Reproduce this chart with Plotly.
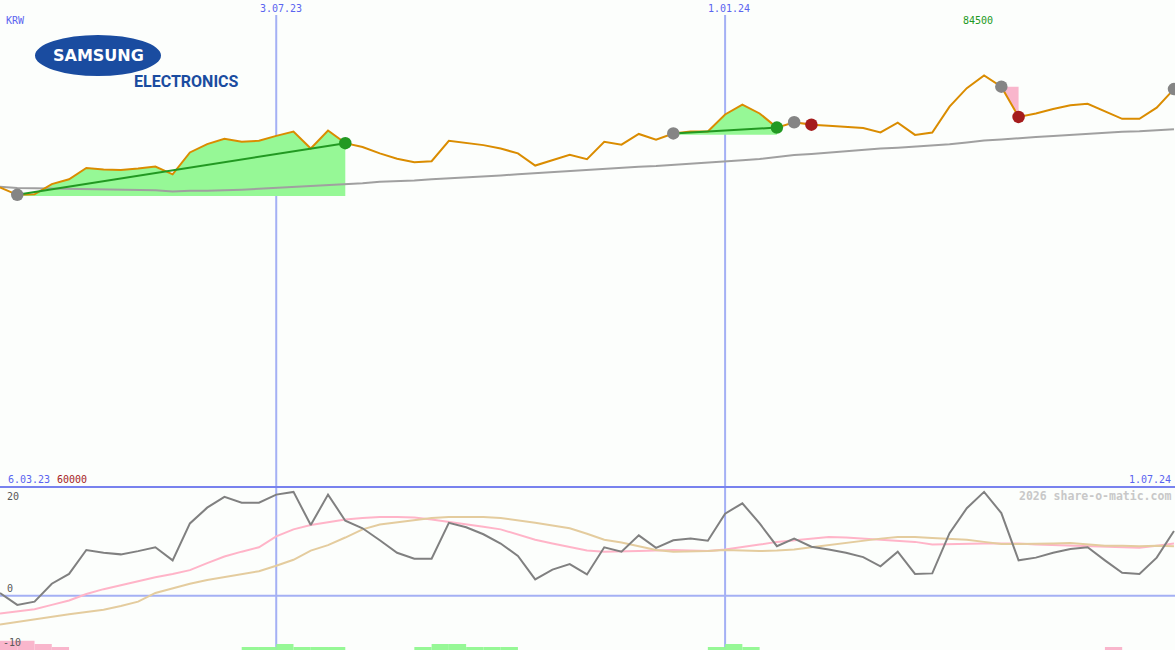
import plotly.graph_objects as go
import pandas as pd

W, H = 1175, 650

# ---------------- data ----------------
start_date = "2023-03-13"
n_weeks = 69
weeks = pd.date_range(start_date, periods=n_weeks, freq="7D")

price = [61500, 60000, 60100, 62200, 63200, 65500, 65200, 65100, 65400, 65800,
         64200, 68700, 70400, 71500, 70900, 71100, 72100, 73000, 69500, 73200,
         70600, 69800, 68500, 67400, 66700, 66900, 71100, 70700, 70200, 69500,
         68500, 66000, 67100, 68200, 67300, 70900, 70300, 72500, 71300, 72600,
         73000, 73000, 76500, 78500, 76700, 73800, 74900, 74400, 74200, 74000,
         73700, 72800, 74800, 72300, 72800, 78100, 81900, 84500, 82200, 76000,
         76700, 77600, 78400, 78700, 77100, 75600, 75600, 77900, 81700]

moving_avg = [61660, 61400, 61340, 61290, 61230, 61190, 61090, 61030, 60990, 60920,
              60680, 60840, 60840, 60880, 61050, 61230, 61400, 61560, 61770, 61950,
              62220, 62360, 62670, 62730, 62940, 63180, 63350, 63530, 63740, 63980,
              64210, 64440, 64640, 64850, 65200, 65360, 65570, 65770, 65910, 66120,
              66390, 66590, 66840, 67090, 67350, 67760, 68170, 68380, 68690, 68930,
              69200, 69510, 69670, 69880, 70080, 70370, 70740, 71130, 71360, 71660,
              71870, 72070, 72280, 72590, 72790, 72960, 73040, 73200, 73450]

osc_main = [0.5, -1.7, -1.1, 2.2, 4.0, 8.4, 7.9, 7.6, 8.2, 8.9,
            6.5, 13.3, 16.2, 18.2, 17.1, 17.1, 18.6, 19.1, 13.0, 18.6,
            13.8, 12.4, 10.2, 7.9, 6.8, 6.8, 13.4, 12.6, 11.3, 9.6,
            7.3, 3.0, 4.8, 5.8, 3.9, 8.9, 8.1, 11.1, 8.8, 10.2,
            10.5, 10.1, 15.1, 17.0, 13.3, 9.1, 10.5, 9.0, 8.5, 7.9,
            7.1, 5.4, 8.1, 4.0, 4.1, 11.5, 16.1, 19.1, 15.2, 6.5,
            7.0, 7.9, 8.6, 8.9, 6.5, 4.2, 4.0, 7.0, 11.9]

osc_fast = [-3.3, -2.9, -2.5, -1.7, -0.9, 0.3, 1.2, 1.9, 2.7, 3.4,
            4.0, 4.7, 6.0, 7.2, 8.1, 8.9, 10.9, 12.2, 13.0, 13.5,
            14.0, 14.3, 14.5, 14.5, 14.4, 14.0, 13.6, 13.2, 12.7, 12.2,
            11.3, 10.3, 9.6, 8.9, 8.3, 8.1, 8.1, 8.2, 8.3, 8.4,
            8.3, 8.2, 8.5, 8.9, 9.4, 9.9, 10.2, 10.5, 10.8, 10.7,
            10.5, 10.3, 10.2, 9.9, 9.4, 9.5, 9.6, 9.6, 9.6, 9.6,
            9.4, 9.3, 9.2, 9.2, 9.1, 9.0, 8.8, 9.2, 9.6]

osc_slow = [-5.3, -4.8, -4.3, -3.9, -3.4, -3.0, -2.6, -1.9, -1.1, 0.5,
            1.4, 2.2, 2.9, 3.4, 4.0, 4.5, 5.5, 6.6, 8.3, 9.3,
            10.7, 12.2, 13.1, 13.5, 14.0, 14.3, 14.5, 14.5, 14.5, 14.3,
            13.9, 13.4, 12.9, 12.4, 11.4, 10.3, 9.8, 9.1, 8.4, 8.1,
            8.1, 8.2, 8.4, 8.3, 8.2, 8.3, 8.5, 8.9, 9.3, 9.8,
            10.1, 10.5, 10.8, 10.8, 10.6, 10.5, 10.3, 9.9, 9.5, 9.5,
            9.5, 9.6, 9.7, 9.5, 9.2, 9.2, 9.1, 9.2, 9.1]

# holding periods (start index, end index) and fill base levels
long_periods = [(1, 20), (39, 45)]
long_bases = [59750, 72350]
short_periods = [(46, 47), (58, 59)]

# signal markers (week indices)
neutral_idx = [1, 39, 46, 58, 68]
buy_idx = [20, 45]
sell_idx = [47, 59]

# signal bars in lower panel
sell_bar_idx = [0, 1, 2, 3, 64]
sell_bar_h = [1.7, 1.7, 1.1, 0.55, 0.55]
buy_bar_idx = [14, 15, 16, 17, 18, 19, 24, 25, 26, 27, 28, 29, 41, 42, 43]
buy_bar_h = [0.55, 0.55, 1.1, 0.55, 0.55, 0.55, 0.55, 1.1, 1.1, 0.55, 0.55, 0.55, 0.55, 1.1, 0.55]

date_marks = ["2023-07-03", "2024-01-01"]
date_mark_labels = ["3.07.23", "1.01.24"]
start_label = "6.03.23"
end_label = "1.07.24"
max_label = "84500"
min_label = "60000"
osc_ticks = ["20", "0", "-10"]

# ---------------- style ----------------
BG = "#fcfefc"
ORANGE = "#da8c00"
GRAYLINE = "#a0a0a0"
GREEN = "#229922"
GREENFILL = "#96f896"
PINKFILL = "#f9b6cc"
RED = "#a51c1c"
BLUE_TXT = "#5a64f0"
MONO = "DejaVu Sans Mono"

fig = go.Figure()

for (a, b), base in zip(long_periods, long_bases):
    xs = list(weeks[a:b + 1]) + [weeks[b], weeks[a]]
    ys = price[a:b + 1] + [base, base]
    fig.add_trace(go.Scatter(x=xs, y=ys, fill="toself", fillcolor=GREENFILL,
                             line=dict(width=0), mode="lines", hoverinfo="skip"))

for (a, b) in short_periods:
    base = price[a]
    xs = list(weeks[a:b + 1]) + [weeks[b], weeks[a]]
    ys = price[a:b + 1] + [base, base]
    fig.add_trace(go.Scatter(x=xs, y=ys, fill="toself", fillcolor=PINKFILL,
                             line=dict(width=0), mode="lines", hoverinfo="skip"))

fig.add_trace(go.Scatter(x=weeks, y=moving_avg, mode="lines",
                         line=dict(color=GRAYLINE, width=2)))
fig.add_trace(go.Scatter(x=weeks, y=price, mode="lines",
                         line=dict(color=ORANGE, width=2)))

for (a, b) in long_periods:
    fig.add_trace(go.Scatter(x=[weeks[a], weeks[b]], y=[price[a], price[b]],
                             mode="lines", line=dict(color=GREEN, width=2)))

for idx, col in [(neutral_idx, "#858585"), (buy_idx, GREEN), (sell_idx, RED)]:
    fig.add_trace(go.Scatter(x=[weeks[i] for i in idx], y=[price[i] for i in idx],
                             mode="markers",
                             marker=dict(color=col, size=12.5, line=dict(width=0))))

# lower panel
week_ms = 7 * 24 * 3600 * 1000
fig.add_trace(go.Bar(x=[weeks[i] for i in sell_bar_idx], y=sell_bar_h, base=-10,
                     width=week_ms, offset=0, marker=dict(color=PINKFILL, line=dict(width=0)),
                     yaxis="y2"))
fig.add_trace(go.Bar(x=[weeks[i] for i in buy_bar_idx], y=buy_bar_h, base=-10,
                     width=week_ms, offset=0, marker=dict(color=GREENFILL, line=dict(width=0)),
                     yaxis="y2"))
fig.add_trace(go.Scatter(x=weeks, y=osc_fast, mode="lines", yaxis="y2",
                         line=dict(color="#ffb4c8", width=2)))
fig.add_trace(go.Scatter(x=weeks, y=osc_slow, mode="lines", yaxis="y2",
                         line=dict(color="#e4cc9e", width=2)))
fig.add_trace(go.Scatter(x=weeks, y=osc_main, mode="lines", yaxis="y2",
                         line=dict(color="#808080", width=2)))


def px(x):
    return x / W


def py(y):
    return 1 - y / H


split = py(487)

shapes = []
for d in date_marks:
    shapes.append(dict(type="line", xref="x", yref="paper", x0=d, x1=d, y0=0, y1=py(15),
                       line=dict(color="#a4b0f4", width=2), layer="below"))
shapes.append(dict(type="line", xref="paper", yref="paper", x0=0, x1=1, y0=split, y1=split,
                   line=dict(color="#7882ee", width=2), layer="below"))
shapes.append(dict(type="line", xref="paper", yref="y2", x0=0, x1=1, y0=0, y1=0,
                   line=dict(color="#a4b0f4", width=2), layer="below"))
# logo ellipse
shapes.append(dict(type="circle", xref="paper", yref="paper",
                   x0=px(35), x1=px(161), y0=py(76), y1=py(35),
                   fillcolor="#1a4ca0", line=dict(width=0), layer="above"))

ann = []


def text(t, x, y, color, size=10, xanchor="left", family=MONO):
    ann.append(dict(text=t, x=px(x), y=py(y), xref="paper", yref="paper",
                    xanchor=xanchor, yanchor="middle", showarrow=False,
                    font=dict(family=family, size=size, color=color)))


for d, lab, cx in zip(date_marks, date_mark_labels, [280.5, 729]):
    text(lab, cx, 9, BLUE_TXT, xanchor="center")
text("KRW", 4, 21, BLUE_TXT)
text(max_label, 978, 21, GREEN, xanchor="center")
text(start_label, 6, 479, BLUE_TXT)
text(min_label, 55, 479, RED)
text(end_label, 1173, 479, BLUE_TXT, xanchor="right")
text(osc_ticks[0], 5, 496, "#585858")
text(osc_ticks[1], 5, 588, "#585858")
text(osc_ticks[2], 1, 642, "#585858")
text("<b>2026 share-o-matic.com</b>", 1173, 496, "#c8c8c8", size=11.5, xanchor="right")
text("<b>SAMSUNG</b>", 99, 56, "#ffffff", size=16, xanchor="center", family="DejaVu Sans")
text("<b>ELECTRONICS</b>", 186, 81.5, "#1a4ca0", size=16, xanchor="center",
     family="Liberation Sans Narrow, Roboto, sans-serif")

fig.update_layout(
    width=W, height=H,
    margin=dict(l=0, r=0, t=0, b=0),
    paper_bgcolor=BG, plot_bgcolor=BG,
    showlegend=False,
    barmode="overlay",
    xaxis=dict(type="date", range=[weeks[0], weeks[-1] + pd.Timedelta(hours=10)],
               showgrid=False, zeroline=False, showticklabels=False, ticks="",
               showline=False, fixedrange=True),
    yaxis=dict(domain=[split, 1], range=[0, 100000], showgrid=False, zeroline=False,
               showticklabels=False, showline=False),
    yaxis2=dict(domain=[0, split], range=[-10, 20], showgrid=False, zeroline=False,
                showticklabels=False, showline=False),
    shapes=shapes,
    annotations=ann,
)

fig.write_html("out.html",
               config={"displayModeBar": False},
               post_script="document.body.style.margin='0';document.body.style.overflow='hidden';")
